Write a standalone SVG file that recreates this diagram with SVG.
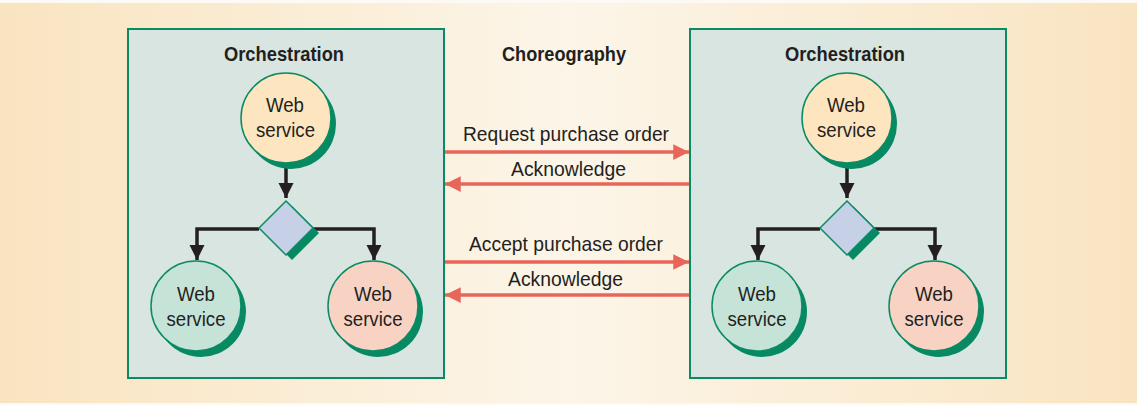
<svg xmlns="http://www.w3.org/2000/svg" width="1137" height="405" viewBox="0 0 1137 405">
<defs>
<linearGradient id="bg" x1="0" y1="0" x2="1" y2="0">
<stop offset="0" stop-color="#f9e4c0"/>
<stop offset="0.5" stop-color="#fcf5e8"/>
<stop offset="1" stop-color="#f9e4c1"/>
</linearGradient>
<marker id="ah" viewBox="0 0 10 10" refX="10" refY="5" markerWidth="4.3" markerHeight="4.3" markerUnits="strokeWidth" orient="auto">
<path d="M0,0 L10,5 L0,10 Z" fill="#231f20"/>
</marker>
<marker id="rh" viewBox="0 0 10 10" refX="10" refY="5" markerWidth="4.5" markerHeight="4.5" markerUnits="strokeWidth" orient="auto">
<path d="M0,0 L10,5 L0,10 Z" fill="#e8655a"/>
</marker>
</defs>
<style>
.t{font-family:"Liberation Sans",Arial,sans-serif;fill:#231f20;text-anchor:middle;font-size:21px}
.b{font-weight:bold;font-size:21px}
.box{fill:#d8e5e0;stroke:#0b8a64;stroke-width:2}
.sh{fill:#078a63}
.c{stroke:#0b8a64;stroke-width:1.5}
.y{fill:#fde6bf}
.g{fill:#c6e3d8}
.p{fill:#f8d3c3}
.dm{fill:#c6d1e8;stroke:#0b8a64;stroke-width:1.5}
.k{fill:none;stroke:#231f20;stroke-width:3.5}
.r{fill:none;stroke:#e8655a;stroke-width:3.5}
</style>
<rect x="0" y="0" width="1137" height="405" fill="#fdfaf5"/>
<rect x="0" y="3" width="1137" height="400" fill="url(#bg)"/>

<g id="left-box">
<rect class="box" x="128" y="29" width="316" height="349"/>
<text class="t b" x="284" y="61" textLength="120" lengthAdjust="spacingAndGlyphs">Orchestration</text>
</g>
<g id="right-box">
<rect class="box" x="690" y="29" width="316" height="349"/>
<text class="t b" x="845" y="61" textLength="120" lengthAdjust="spacingAndGlyphs">Orchestration</text>
</g>
<g id="choreography-label">
<text class="t b" x="564" y="61" textLength="124" lengthAdjust="spacingAndGlyphs">Choreography</text>
</g>

<g id="connectors">
<path class="k" d="M286,164 V198" marker-end="url(#ah)"/>
<path class="k" d="M259,229 H197 V260" marker-end="url(#ah)"/>
<path class="k" d="M313,229 H374 V260" marker-end="url(#ah)"/>
<path class="k" d="M847,164 V198" marker-end="url(#ah)"/>
<path class="k" d="M820,229 H758 V260" marker-end="url(#ah)"/>
<path class="k" d="M874,229 H935 V260" marker-end="url(#ah)"/>
<path class="r" d="M445,152 H689" marker-end="url(#rh)"/>
<path class="r" d="M689,184 H445" marker-end="url(#rh)"/>
<path class="r" d="M445,262 H689" marker-end="url(#rh)"/>
<path class="r" d="M689,295 H445" marker-end="url(#rh)"/>
<text class="t" x="566" y="141" textLength="206" lengthAdjust="spacingAndGlyphs">Request purchase order</text>
<text class="t" x="568.5" y="176" textLength="115" lengthAdjust="spacingAndGlyphs">Acknowledge</text>
<text class="t" x="566" y="251" textLength="194" lengthAdjust="spacingAndGlyphs">Accept purchase order</text>
<text class="t" x="565.5" y="286" textLength="115" lengthAdjust="spacingAndGlyphs">Acknowledge</text>
</g>

<g id="ws-left-top">
<circle class="sh" cx="291" cy="124" r="45"/>
<circle class="c y" cx="286" cy="118" r="45"/>
<text class="t" x="285" y="112" textLength="38" lengthAdjust="spacingAndGlyphs">Web</text>
<text class="t" x="285.5" y="137" textLength="59" lengthAdjust="spacingAndGlyphs">service</text>
</g>
<g id="decision-left">
<path class="sh" d="M292,206 L319,233 L292,260 L265,233 Z"/>
<path class="dm" d="M286,201 L313,228 L286,255 L259,228 Z"/>
</g>
<g id="ws-left-bl">
<circle class="sh" cx="201" cy="312" r="45"/>
<circle class="c g" cx="196" cy="306" r="45"/>
<text class="t" x="196" y="301" textLength="38" lengthAdjust="spacingAndGlyphs">Web</text>
<text class="t" x="196" y="326" textLength="59" lengthAdjust="spacingAndGlyphs">service</text>
</g>
<g id="ws-left-br">
<circle class="sh" cx="378" cy="312" r="45"/>
<circle class="c p" cx="373" cy="306" r="45"/>
<text class="t" x="373" y="301" textLength="38" lengthAdjust="spacingAndGlyphs">Web</text>
<text class="t" x="373" y="326" textLength="59" lengthAdjust="spacingAndGlyphs">service</text>
</g>

<g id="ws-right-top">
<circle class="sh" cx="852" cy="124" r="45"/>
<circle class="c y" cx="847" cy="118" r="45"/>
<text class="t" x="846" y="112" textLength="38" lengthAdjust="spacingAndGlyphs">Web</text>
<text class="t" x="846.5" y="137" textLength="59" lengthAdjust="spacingAndGlyphs">service</text>
</g>
<g id="decision-right">
<path class="sh" d="M853,206 L880,233 L853,260 L826,233 Z"/>
<path class="dm" d="M847,201 L874,228 L847,255 L820,228 Z"/>
</g>
<g id="ws-right-bl">
<circle class="sh" cx="762" cy="312" r="45"/>
<circle class="c g" cx="757" cy="306" r="45"/>
<text class="t" x="757" y="301" textLength="38" lengthAdjust="spacingAndGlyphs">Web</text>
<text class="t" x="757" y="326" textLength="59" lengthAdjust="spacingAndGlyphs">service</text>
</g>
<g id="ws-right-br">
<circle class="sh" cx="939" cy="312" r="45"/>
<circle class="c p" cx="934" cy="306" r="45"/>
<text class="t" x="934" y="301" textLength="38" lengthAdjust="spacingAndGlyphs">Web</text>
<text class="t" x="934" y="326" textLength="59" lengthAdjust="spacingAndGlyphs">service</text>
</g>
</svg>
